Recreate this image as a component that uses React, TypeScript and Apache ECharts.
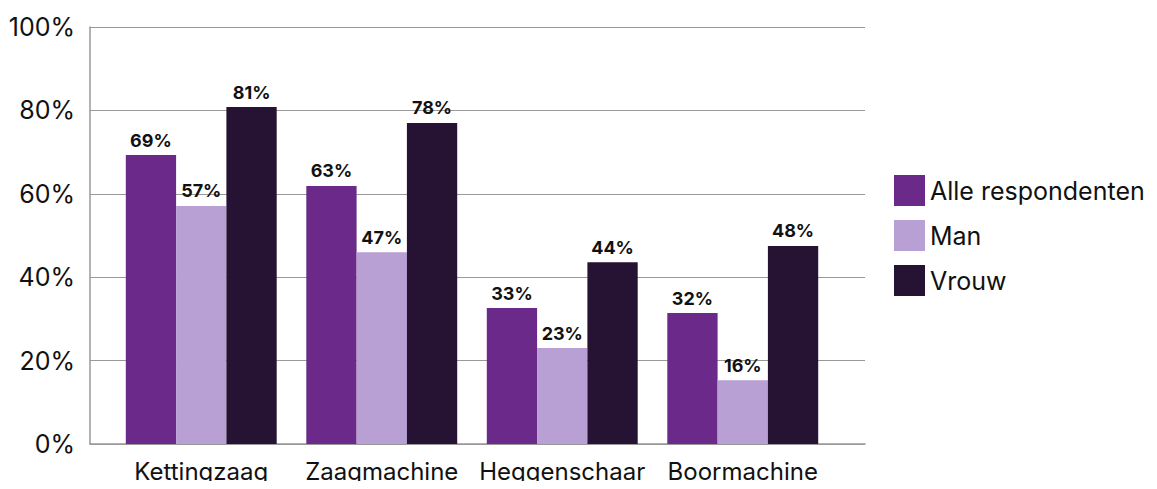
import React, { useEffect, useRef } from "react";
import * as echarts from "echarts";

const categories = ["Kettingzaag", "Zaagmachine", "Heggenschaar", "Boormachine"];
const seriesNames = ["Alle respondenten", "Man", "Vrouw"];
const alleValues = [69.3, 61.9, 32.6, 31.4];
const manValues = [57.1, 46.0, 23.0, 15.3];
const vrouwValues = [80.8, 77.0, 43.6, 47.5];
const alleLabels = ["69%", "63%", "33%", "32%"];
const manLabels = ["57%", "47%", "23%", "16%"];
const vrouwLabels = ["81%", "78%", "44%", "48%"];
const colors = ["#6B2A8A", "#B89FD4", "#261333"];

export default function App() {
  const ref = useRef<HTMLDivElement>(null);
  useEffect(() => {
    if (!ref.current) return;
    const chart = echarts.init(ref.current, null, { renderer: "svg" });
    const font = "Inter, 'Noto Sans', sans-serif";
    const mk = (i: number, vals: number[], labels: string[]) => ({
      name: seriesNames[i],
      type: "bar",
      xAxisIndex: 1,
      yAxisIndex: 1,
      data: vals,
      barGap: "0%",
      barCategoryGap: "16.4%",
      itemStyle: { color: colors[i] },
      label: {
        show: true,
        position: "top",
        distance: 6,
        fontFamily: font,
        fontSize: 18,
        fontWeight: "bold",
        color: "#111",
        formatter: (p: any) => labels[p.dataIndex],
      },
    });
    chart.setOption({
      animation: false,
      textStyle: { fontFamily: font },
      grid: [
        { left: 90, right: 292, top: 27, bottom: 45 },
        { left: 111, right: 324, top: 27, bottom: 45 },
      ],
      legend: {
        orient: "vertical",
        left: 894,
        top: 175,
        padding: 0,
        itemWidth: 31,
        itemHeight: 31,
        itemGap: 14,
        icon: "rect",
        textStyle: { fontSize: 25, color: "#111", fontFamily: font },
        data: seriesNames,
      },
      xAxis: [
        {
          type: "value",
          gridIndex: 0,
          min: 0,
          max: 1,
          axisLine: { show: true, lineStyle: { color: "#999", width: 1.5 } },
          axisTick: { show: false },
          axisLabel: { show: false },
          splitLine: { show: false },
        },
        {
          type: "category",
          gridIndex: 1,
          data: categories,
          axisLine: { show: false },
          axisTick: { show: false },
          axisLabel: { interval: 0, fontSize: 24, color: "#111", margin: 15, fontFamily: font, hideOverlap: false },
        },
      ],
      yAxis: [
        {
          type: "value",
          gridIndex: 0,
          min: 0,
          max: 100,
          interval: 20,
          axisLine: { show: true, lineStyle: { color: "#999", width: 1.5 } },
          axisTick: { show: false },
          splitLine: { lineStyle: { color: "#999", width: 1 } },
          axisLabel: {
            fontSize: 25,
            color: "#111",
            margin: 15,
            fontFamily: font,
            formatter: (v: number) => v + "%",
          },
        },
        {
          type: "value",
          gridIndex: 1,
          min: 0,
          max: 100,
          show: false,
          splitLine: { show: false },
        },
      ],
      series: [mk(0, alleValues, alleLabels), mk(1, manValues, manLabels), mk(2, vrouwValues, vrouwLabels)],
    });
    return () => chart.dispose();
  }, []);
  return <div ref={ref} style={{ width: 1157, height: 489, margin: -8 }} />;
}
